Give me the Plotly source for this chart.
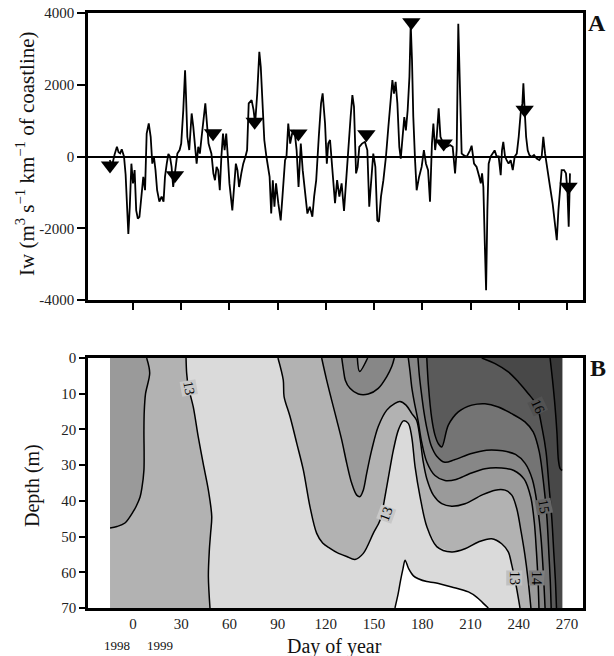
import plotly.graph_objects as go

# ---------------- Panel A: Iw time series ----------------
iw_series = [
    (-14.5, -100), (-13, -250), (-11.5, 50), (-10, 270), (-9, 120), (-8, 90), (-7, 200), (-5.6, 0),
    (-4.6, -500), (-3.9, -1120), (-2.9, -2160), (-2, -1400), (-1, -200), (0, -750), (1, -380), (2, -1500),
    (3, -1730), (4, -1680), (5, -1120), (6.4, -570), (7.5, -940), (8.5, 640), (9.8, 920), (11, 550),
    (12, -200), (13, 0), (14, -380), (15, -940), (16.4, -1260), (17.8, -1120), (19, -1260), (19.9, -570),
    (21, -200), (22, 70), (23, 0), (24, -290), (25, -850), (26.5, -290), (27.6, 80), (29, 180), (30, 360),
    (31.3, 1300), (32.4, 2400), (33, 1670), (33.8, 550), (35, 180), (36.5, 1200), (37.5, 830), (38.6, 360),
    (39.6, -200), (40.6, 270), (41.6, 80), (42.7, 550), (44, 1200), (45, 1480), (46, 920), (47, 360),
    (48.8, 80), (50, -470), (51, -660), (52, -290), (53, -380), (54, -940), (55, 0), (56, 640),
    (57, 180), (58, 640), (59, 0), (60, -750), (61.8, -1500), (62.8, -750), (64, -200), (65, -380),
    (66, -850), (67.4, -470), (68.6, -200), (70, 0), (71, 180), (72, 1480), (73.8, 1570), (75, 1300),
    (76, 920), (77.3, 1760), (78.6, 2920), (79.5, 2500), (80.4, 1480), (81.7, 460), (83, 0), (85, -570),
    (86, -1590), (87, -660), (88, -1400), (89, -750), (90.4, -1300), (91.9, -1780), (93, -1120), (94.6, -100),
    (95.5, 0), (96.6, 920), (97.8, 360), (99, 640), (100.5, 730), (101.8, 180), (103, -850), (104.4, 360),
    (105.6, -380), (107, -940), (108.5, -1590), (110, -1400), (111.6, -1680), (112.7, -1120), (114, -660),
    (115.6, 550), (117, 1480), (118, 1760), (119.5, 920), (120.6, -200), (121.5, 360), (122.6, 460),
    (124.3, -380), (125.7, -1300), (127, -660), (128.4, -1120), (129.8, -750), (131.3, -1520),
    (132.5, -750), (134, 360), (135.4, 1100), (136.5, 1710), (137.5, 1390), (138.8, -470), (139.8, -290),
    (140.8, 270), (142.5, 360), (144.3, 410), (145.8, 180), (147, -1400), (148.5, -470), (149.5, 80),
    (150.8, -290), (152, -1780), (153, -1820), (154.3, -1120), (155.8, -660), (157.4, 0), (158.9, 830),
    (160.3, 1660), (161.4, 2130), (162.4, 1750), (163.4, 2080), (164.5, 1480), (165.7, 270), (166.6, -60),
    (167.8, 550), (168.8, 1100), (169.8, 730), (170.9, 1290), (172, 2220), (172.8, 3700), (173.6, 2690),
    (174.4, 1110), (175.5, -100), (176.5, -940), (178, -570), (179.6, -290), (181, 180), (182.3, -200),
    (183.6, -380), (184.8, -1260), (186, 360), (186.9, 920), (188, 180), (189, 550), (190.2, 1340),
    (191.3, 550), (193.1, 360), (195.2, 270), (197.3, 320), (198.9, 270), (200.4, -470), (201.4, 180),
    (202.4, 3700), (203.5, 1500), (204.5, 80),
    (205.6, 40), (207.6, -10), (209.7, 170), (210.7, 300), (212.2, -200), (213.8, -290), (215.5, -570),
    (216.4, -750), (217.2, -470), (218, -850), (218.9, -2430), (219.7, -3730), (220.5, -1500), (221.3, -200),
    (222.5, 0), (223.8, 90), (225, 170), (226.3, 0), (227.5, 0), (228.8, -520), (229.6, 180), (230.4, 410),
    (231.5, 0), (232.5, -100), (233.7, -200), (235, -100), (236.3, -380), (237.5, 0), (238.8, 80),
    (240, 550), (241.2, 1200), (242.3, 1480), (242.9, 2040), (243.7, 1300), (244.6, 550), (245.6, 170),
    (246.6, 40), (248, -10), (249.5, 40), (251.2, -60), (252.8, -100), (254.3, 0), (255.3, 550),
    (256.4, 80), (257.8, -290), (259.5, -850), (261.1, -1310), (262.6, -1870), (263.7, -2330),
    (264.7, -1500), (265.7, -940), (266.7, -380), (268.2, -380), (269.4, -470), (270.3, -940),
    (271.1, -1960), (271.9, -470),
]
iw_day = [d for d, _ in iw_series]
iw_val = [v for _, v in iw_series]

tri_a_day = [-14.3, 26.1, 49.8, 75.7, 102.9, 145.2, 173.2, 193.3, 243.7, 271.0]
tri_a_val = [-250, -520, 650, 970, 640, 620, 3740, 360, 1300, -840]

a_ytick_vals = [4000, 2000, 0, -2000, -4000]
a_ytick_text = ["4000", "2000", "0", "-2000", "-4000"]

# ---------------- Panel B: temperature isotherms (day, depth m) ----------------
tri_b_day = [-13.3, 26.0, 49.0, 74.6, 116.8, 142.9, 170.3, 189.3, 239.8, 265.1]

DAY_START, DAY_END = -14.3, 267.0
DEPTH_MAX = 70

iso_13_left = [(33.0, 0), (33.4, 4.3), (34.4, 8), (37.5, 13.7), (40.6, 22.1), (43.7, 29.6), (46.9, 37),
               (49.0, 44.4), (48.3, 49), (47.5, 53.8), (46.9, 61.2), (47.9, 70)]
iso_135_left = [(8.5, 0), (10.4, 4.2), (7.8, 10), (7.0, 15), (6.8, 20.2), (6.8, 31.4), (5.5, 36.5),
                (4.4, 38.9), (2.0, 41.5), (0.0, 43.1), (-5.0, 46.2), (-10.0, 47.2), (-14.3, 47.6)]
iso_13_right = [(90.2, 0), (93.5, 6.2), (94.0, 10.8), (97.7, 16.4), (101.9, 23.9), (106.0, 31.4),
                (110.1, 41.6), (114.3, 49.1), (118.0, 51.8), (122.6, 53.3), (127.0, 54.5), (133.0, 55.6),
                (138.1, 56.4), (143.3, 54.7), (149.5, 49.1), (153.7, 45.4), (157.9, 36.0), (162.0, 25.8),
                (165.1, 20.2), (168.2, 17.6), (171.3, 18.3), (173.4, 22.0), (175.5, 30.4), (178.6, 38.8),
                (182.8, 47.2), (189.0, 52.8), (198.3, 54.3), (206.6, 53.4), (214.9, 51.5), (223.2, 50.6),
                (229.4, 52.0), (233.5, 54.3), (235.7, 58.0), (238.5, 64.0), (240.8, 70)]
iso_135_right = [(117.4, 0), (120.5, 6.2), (123.6, 11.8), (126.8, 17.4), (129.9, 23.0), (133.0, 29.5),
                 (136.1, 35.1), (139.2, 38.4), (141.3, 38.8), (143.3, 37.0), (145.4, 32.3), (148.5, 25.8),
                 (152.6, 19.2), (157.9, 14.6), (163.0, 12.7), (166.1, 12.2), (169.9, 13.2), (173.4, 15.5),
                 (176.5, 17.5), (178.6, 22.6), (180.6, 29.1), (182.8, 33.8), (186.9, 38.4), (192.1, 40.8),
                 (198.3, 41.5), (206.6, 40.8), (217.0, 38.4), (225.3, 37.0), (231.5, 37.0), (235.7, 38.4),
                 (238.8, 42.2), (241.5, 48.7), (243.8, 55.0), (245.8, 62.0), (247.6, 70)]
iso_14_cap = [(129.9, 0), (131.0, 3.5), (132.1, 6.2), (135.0, 8.5), (140.2, 10.1), (146.4, 10.1),
              (152.6, 8.5), (157.9, 5.2), (161.0, 2.4), (162.6, 0)]
iso_14_notch = [(139.6, 0), (141.0, 3.8), (146.0, 0)]
iso_14 = [(171.3, 0), (172.4, 3.9), (173.4, 8.0), (175.0, 12.3), (177.5, 17.9), (179.6, 23.5),
          (182.8, 29.1), (187.9, 32.9), (194.1, 34.3), (201.0, 34.0), (209.0, 32.5), (219.0, 31.0),
          (229.4, 30.8), (237.0, 31.5), (243.5, 34.0), (247.5, 39.0), (249.7, 46.0), (251.0, 54.0),
          (252.0, 62.0), (252.6, 70)]
iso_145 = [(177.3, 0), (178.2, 5), (179.5, 10), (181.0, 15), (183.0, 20), (185.5, 24.5), (189.0, 27.5),
           (194.0, 29.2), (200.0, 28.5), (210.0, 26.8), (220.0, 25.8), (230.0, 26.0), (238.0, 27.0),
           (244.0, 29.5), (248.5, 34.0), (251.5, 41.0), (253.8, 50.0), (255.3, 60.0), (256.4, 70)]
iso_15 = [(182.8, 0), (183.8, 7.6), (185.9, 17.0), (187.9, 21.6), (190.0, 24.0), (192.1, 24.9),
          (196.2, 18.8), (202.4, 15.1), (210.8, 13.2), (219.0, 12.8), (227.3, 13.7), (235.7, 15.6),
          (243.9, 17.9), (249.0, 20.7), (252.8, 26.3), (255.6, 35.6), (257.6, 45.0), (258.8, 55.0),
          (259.6, 62.0), (260.2, 70)]
iso_16 = [(217.0, 0), (225.3, 1.6), (233.5, 3.9), (239.8, 6.7), (246.0, 10.0), (251.2, 13.2),
          (254.6, 19.8), (257.0, 26.3), (258.8, 35.6), (260.6, 45.0), (261.8, 54.3), (262.8, 62.0),
          (263.5, 70)]
iso_165 = [(259.5, 0), (261.0, 6.0), (262.6, 13.6), (263.8, 21.0), (264.7, 28.6), (265.8, 31.0),
           (267.0, 31.5)]
cold_pool = [(163.0, 70), (165.0, 66.0), (166.4, 62.5), (168.0, 59.0), (169.3, 56.6), (171.5, 59.0),
             (174.5, 61.0), (177.5, 61.8), (182.8, 62.6), (187.9, 62.9), (198.3, 64.1), (208.7, 65.5),
             (214.0, 67.0), (217.5, 68.5), (221.1, 70)]

band_colors = {
    "12.5": "#dadada", "13": "#b2b2b2", "13.5": "#9a9a9a", "14": "#878787",
    "14.5": "#747474", "15": "#5a5a5a", "16": "#484848", "16.5": "#383838",
}

contour_labels = [
    ("13", 34.6, 8.3, 80, "#c8c8c8"),
    ("13", 157.3, 43.7, -70, "#c8c8c8"),
    ("13", 237.3, 61.7, 90, "#c0c0c0"),
    ("14", 251.2, 61.5, 90, "#7e7e7e"),
    ("15", 255.4, 41.7, 80, "#666666"),
    ("16", 252.0, 13.5, 65, "#525252"),
]


def split(pts):
    return [p[0] for p in pts], [p[1] for p in pts]


def region_right(iso):
    pts = list(iso)
    if pts[-1][0] < DAY_END:
        pts.append((DAY_END, pts[-1][1]))
    pts.append((DAY_END, 0))
    return pts


def region_left(iso):
    pts = list(iso)
    if pts[-1][0] > DAY_START:
        pts.append((DAY_START, pts[-1][1]))
    pts.append((DAY_START, 0))
    return pts


fig = go.Figure()

# ---- Panel A traces ----
fig.add_trace(go.Scatter(x=iw_day, y=iw_val, mode="lines", line=dict(color="black", width=1.8),
                         xaxis="x", yaxis="y", hoverinfo="skip"))
fig.add_trace(go.Scatter(x=tri_a_day, y=tri_a_val, mode="markers",
                         marker=dict(symbol="triangle-down", size=16, color="black"),
                         xaxis="x", yaxis="y", cliponaxis=False, hoverinfo="skip"))

# ---- Panel B filled bands ----
fills = [
    ([(DAY_START, 0), (DAY_END, 0), (DAY_END, DEPTH_MAX), (DAY_START, DEPTH_MAX)], band_colors["12.5"]),
    (cold_pool, "#ffffff"),
    (region_left(iso_13_left), band_colors["13"]),
    (region_right(iso_13_right), band_colors["13"]),
    (region_left(iso_135_left), band_colors["13.5"]),
    (region_right(iso_135_right), band_colors["13.5"]),
    (iso_14_cap, band_colors["14"]),
    (iso_14_notch, band_colors["13.5"]),
    (region_right(iso_14), band_colors["14"]),
    (region_right(iso_145), band_colors["14.5"]),
    (region_right(iso_15), band_colors["15"]),
    (region_right(iso_16), band_colors["16"]),
    (region_right(iso_165), band_colors["16.5"]),
]
for pts, col in fills:
    xs, ys = split(pts)
    fig.add_trace(go.Scatter(x=xs, y=ys, mode="lines", fill="toself", fillcolor=col,
                             line=dict(width=0, color=col), xaxis="x2", yaxis="y2", hoverinfo="skip"))

for iso in [iso_13_left, iso_135_left, iso_13_right, iso_135_right, iso_14_cap, iso_14_notch,
            iso_14, iso_145, iso_15, iso_16, iso_165, cold_pool]:
    xs, ys = split(iso)
    fig.add_trace(go.Scatter(x=xs, y=ys, mode="lines",
                             line=dict(color="black", width=1.5, shape="spline", smoothing=0.9),
                             xaxis="x2", yaxis="y2", hoverinfo="skip"))

fig.add_trace(go.Scatter(x=tri_b_day, y=[-3.0] * len(tri_b_day), mode="markers",
                         marker=dict(symbol="triangle-down", size=13, color="black"),
                         xaxis="x2", yaxis="y2", cliponaxis=False, hoverinfo="skip"))

SERIF = "Liberation Serif, Times New Roman, serif"

annotations = []
for txt, d, z, ang, bg in contour_labels:
    annotations.append(dict(x=d, y=z, xref="x2", yref="y2", text=txt, showarrow=False,
                            textangle=ang, font=dict(family=SERIF, size=14, color="black"),
                            bgcolor=bg, borderpad=0))

# The page body has an 8 px default margin: the figure is drawn 8 px right/down
# of the window origin, so layout is expressed in window pixels minus that offset.
OFF = 8
PLOT_L, PLOT_R, PLOT_T, PLOT_B = 88, 583, 13, 608   # plot area in window pixels
FIG_W, FIG_H = 614 - OFF, 656 - OFF


def paper(xp, yp):
    return (xp - PLOT_L) / (PLOT_R - PLOT_L), (PLOT_B - yp) / (PLOT_B - PLOT_T)


def add_text(txt, xp, yp, size, angle=0, bold=False):
    px, py = paper(xp, yp)
    annotations.append(dict(x=px, y=py, xref="paper", yref="paper", text=(f"<b>{txt}</b>" if bold else txt),
                            showarrow=False, textangle=angle, xanchor="center", yanchor="middle",
                            font=dict(family=SERIF, size=size, color="#111111")))


add_text("Iw (m<sup>3</sup> s<sup>\u22121</sup> km<sup>\u22121</sup> of coastline)", 25, 154, 21, angle=-90)
add_text("Depth (m)", 32, 486, 20, angle=-90)
add_text("Day of year", 334, 646, 20)
add_text("1998", 117, 645, 13)
add_text("1999", 160, 645, 13)
add_text("A", 597, 23, 24, bold=True)
add_text("B", 598, 368, 24, bold=True)

xticks = list(range(0, 271, 30))
axis_common = dict(showline=True, linecolor="black", linewidth=2.5, mirror=True, showgrid=False,
                   automargin=False, ticklabeloverflow="allow",
                   tickfont=dict(family=SERIF, size=15, color="#222222"))

top_split = (PLOT_B - 300) / (PLOT_B - PLOT_T)
bot_split = (PLOT_B - 358) / (PLOT_B - PLOT_T)

fig.update_layout(
    width=FIG_W, height=FIG_H,
    margin=dict(l=PLOT_L - OFF, r=FIG_W - (PLOT_R - OFF), t=PLOT_T - OFF, b=FIG_H - (PLOT_B - OFF),
                autoexpand=False),
    paper_bgcolor="white", plot_bgcolor="white",
    showlegend=False,
    annotations=annotations,
    xaxis=dict(domain=[0, 1], anchor="y", range=[-28, 280], tickvals=xticks, showticklabels=False,
               ticks="outside", ticklen=7, tickwidth=2, tickcolor="black", zeroline=False, **axis_common),
    yaxis=dict(domain=[top_split, 1.0], anchor="x", range=[-4000, 4000], tickvals=a_ytick_vals,
               ticktext=a_ytick_text, ticks="outside", ticklen=8, tickwidth=2, tickcolor="black",
               zeroline=True, zerolinecolor="black", zerolinewidth=1.6, **axis_common),
    xaxis2=dict(domain=[0, 1], anchor="y2", range=[-28, 280], tickvals=xticks, ticks="",
                zeroline=False, **axis_common),
    yaxis2=dict(domain=[0, bot_split], anchor="x2", range=[70, 0], tickvals=list(range(0, 71, 10)),
                ticks="outside", ticklen=6, tickwidth=2, tickcolor="black", zeroline=False, **axis_common),
)

fig.write_html("out.html")
